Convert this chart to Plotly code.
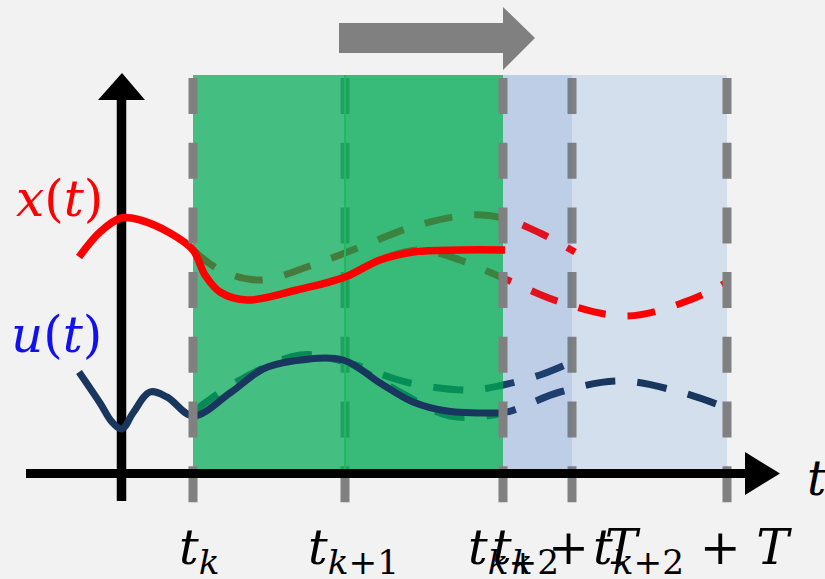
import plotly.graph_objects as go

# ---------------- data (diagram coordinates, x to the right, y downward) -------------
t_marks = [193, 345, 503, 572, 727]

# x(t) actual trajectory (solid red)
x_solid_t = [79, 100, 121, 140, 170, 193, 205, 220, 247, 297, 345, 380, 413, 460, 505]
x_solid_v = [257, 232, 218, 220, 233, 250, 275, 292, 300, 290, 277, 260, 252, 250, 250]

# x predicted from t_k (dashed)
x_predA_t = [193, 220, 260, 310, 365, 415, 470, 503, 540, 575]
x_predA_v = [250, 270, 280, 266, 245, 226, 215, 218, 233, 252]
# x predicted from t_{k+1} (dashed)
x_predB_t = [345, 380, 420, 460, 503, 560, 627, 690, 727]
x_predB_v = [278, 260, 250, 260, 278, 302, 316, 300, 282]

# u(t) applied input (solid dark blue)
u_solid_t = [79, 100, 112, 122, 133, 150, 167, 193, 230, 263, 293, 343, 380, 413, 447, 503]
u_solid_v = [372, 403, 422, 429, 413, 392, 397, 416, 393, 369, 361, 360, 383, 402, 411, 413]

# u predicted from t_k (dashed)
u_predA_t = [193, 240, 300, 345, 410, 470, 503, 540, 572]
u_predA_v = [412, 380, 355, 362, 383, 390, 385, 375, 362]
# u predicted from t_{k+1} (dashed)
u_predB_t = [345, 400, 450, 503, 560, 620, 680, 727]
u_predB_v = [360, 392, 416, 413, 392, 381, 392, 408]

tick_texts = [
    "<i>t</i><sub><i>k</i></sub>",
    "<i>t</i><sub><i>k</i>+1</sub>",
    "<i>t</i><sub><i>k</i>+2</sub>",
    "<i>t</i><sub><i>k</i></sub> + <i>T</i>",
    "<i>t</i><sub><i>k</i>+2</sub> + <i>T</i>",
]
tick_left = [177, 306, 466, 490, 591]

# ---------------- figure ----------------
BG = "#f2f2f2"
TOP, BOT = 75, 470
fig = go.Figure()


def poly(xs, ys, color):
    fig.add_trace(go.Scatter(x=xs, y=ys, mode="lines", fill="toself", fillcolor=color,
                             line=dict(width=0, color=color), hoverinfo="skip",
                             showlegend=False))


def rect(x0, x1, color):
    poly([x0, x1, x1, x0, x0], [TOP, TOP, BOT, BOT, TOP], color)


def curve(xs, ys, color, width=7, dash="solid"):
    fig.add_trace(go.Scatter(x=xs, y=ys, mode="lines",
                             line=dict(color=color, width=width, dash=dash,
                                       shape="spline", smoothing=1.0),
                             hoverinfo="skip", showlegend=False))


def vline(x, color="#808080"):
    fig.add_trace(go.Scatter(x=[x, x], y=[78, 507], mode="lines",
                             line=dict(color=color, width=9, dash="36px,28.7px"),
                             hoverinfo="skip", showlegend=False))


# light blue prediction horizon
rect(t_marks[2], t_marks[4], "rgb(211,223,237)")

# predicted (dashed) trajectories
curve(x_predA_t, x_predA_v, "#ff0000", 7, "28px,22px")
curve(x_predB_t, x_predB_v, "#ff0000", 7, "28px,22px")
curve(u_predA_t, u_predA_v, "#18365e", 7, "30px,22px")
curve(u_predB_t, u_predB_v, "#18365e", 7, "30px,22px")

vline(t_marks[1])

# green (applied) intervals
rect(t_marks[0], t_marks[1], "rgba(0,171,84,0.72)")
rect(t_marks[1], t_marks[2], "rgba(0,171,84,0.77)")
fig.add_trace(go.Scatter(x=[t_marks[1], t_marks[1]], y=[TOP, BOT], mode="lines",
                         line=dict(color="rgb(30,185,95)", width=2),
                         hoverinfo="skip", showlegend=False))

vline(t_marks[3])
rect(t_marks[2], t_marks[3], "rgba(68,114,196,0.15)")

# vertical axis
fig.add_trace(go.Scatter(x=[121.5, 121.5], y=[501, 98], mode="lines",
                         line=dict(color="black", width=9.5),
                         hoverinfo="skip", showlegend=False))
poly([98, 145, 122, 98], [100, 100, 73, 100], "black")

# actual trajectories
curve(x_solid_t, x_solid_v, "#ff0000", 7.5)
curve(u_solid_t, u_solid_v, "#18365e", 7)

for m in (t_marks[0], t_marks[2], t_marks[4]):
    vline(m)

# horizontal axis
fig.add_trace(go.Scatter(x=[26, 755], y=[473.5, 473.5], mode="lines",
                         line=dict(color="black", width=9),
                         hoverinfo="skip", showlegend=False))
poly([745, 745, 780, 745], [452, 495, 473.5, 452], "black")

# gray arrow at top
poly([339, 503, 503, 535, 503, 503, 339, 339], [23, 23, 7, 38, 70, 53, 53, 23], "#808080")

FONT = "DejaVu Serif"
ann = [
    dict(x=59, y=199, text="<i>x</i>(<i>t</i>)", font=dict(color="#ff0000", size=50)),
    dict(x=56, y=335, text="<i>u</i>(<i>t</i>)", font=dict(color="#1010f0", size=50)),
    dict(x=805, y=478, text="<i>t</i>", font=dict(color="black", size=48), xanchor="left"),
]
for txt, xl in zip(tick_texts, tick_left):
    ann.append(dict(x=xl, y=550, text=txt, xanchor="left",
                    font=dict(color="black", size=49)))
for a in ann:
    a.setdefault("xanchor", "center")
    a["font"]["family"] = FONT
    fig.add_annotation(xref="x", yref="y", showarrow=False, yanchor="middle", **a)

fig.update_xaxes(range=[0, 825], visible=False, fixedrange=True)
fig.update_yaxes(range=[579, 0], visible=False, fixedrange=True)
fig.update_layout(width=825, height=579, margin=dict(l=0, r=0, t=0, b=0),
                  paper_bgcolor=BG, plot_bgcolor=BG, showlegend=False)

fig.write_html("out.html")
